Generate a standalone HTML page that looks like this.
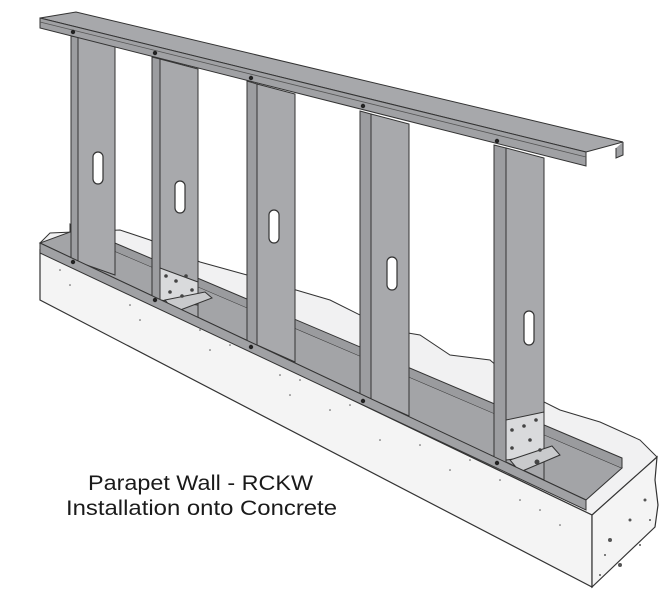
<!DOCTYPE html>
<html><head><style>
html,body{margin:0;padding:0;background:#fff;}
svg{display:block;}
text{font-family:"Liberation Sans",Arial,sans-serif;fill:#1a1a1a;}
</style></head><body>
<svg width="665" height="598" viewBox="0 0 665 598" xmlns="http://www.w3.org/2000/svg">
<path d="M40,243 L50,233 L120,230 L150,240 L200,262 L247,275 L296,290 L330,300 L390,330 L420,335 L450,355 L490,360 L530,395 L560,410 L600,422 L640,440 L657,457 L592,515 L40,250 Z" fill="#f1f1f2" stroke="#333" stroke-width="1"/>
<path d="M40,250 L592,515 L592,587 L40,300 Z" fill="#f4f4f4" stroke="#333" stroke-width="1.2"/>
<path d="M592,515 L657,457 L655,480 L658,505 L655,527 L592,587 Z" fill="#f4f4f4" stroke="#333" stroke-width="1.2"/>
<g fill="#555">
<circle cx="610" cy="540" r="2"/><circle cx="630" cy="520" r="1.5"/><circle cx="620" cy="565" r="2"/><circle cx="645" cy="500" r="1.5"/><circle cx="605" cy="555" r="1"/><circle cx="640" cy="545" r="1"/><circle cx="600" cy="575" r="1"/><circle cx="650" cy="520" r="1"/>
<circle cx="140" cy="320" r="0.8"/><circle cx="210" cy="350" r="0.8"/><circle cx="290" cy="395" r="0.8"/><circle cx="330" cy="410" r="0.8"/><circle cx="450" cy="470" r="0.8"/><circle cx="520" cy="500" r="0.8"/><circle cx="380" cy="440" r="0.8"/>
<circle cx="60" cy="270" r="0.8"/><circle cx="70" cy="285" r="0.8"/><circle cx="130" cy="305" r="0.8"/><circle cx="200" cy="330" r="0.8"/><circle cx="230" cy="345" r="0.8"/><circle cx="280" cy="375" r="0.8"/><circle cx="300" cy="380" r="0.8"/><circle cx="350" cy="405" r="0.8"/><circle cx="420" cy="445" r="0.8"/><circle cx="470" cy="460" r="0.8"/><circle cx="500" cy="480" r="0.8"/><circle cx="540" cy="510" r="0.8"/><circle cx="560" cy="525" r="0.8"/>
</g>
<path d="M40,243 L586,500 L622,468 L70,232 Z" fill="#a3a4a7" stroke="#333" stroke-width="1"/>
<path d="M622,468 L622,458 L70,224 L70,232" fill="#9a9b9e" stroke="#333" stroke-width="1"/>
<g stroke="#333" stroke-width="1">
<path d="M71,36 L78,37 L78,262 L71,262 Z" fill="#9c9da0"/><path d="M78,37 L115,46 L115,275 L78,262 Z" fill="#a8a9ac"/>
<path d="M152,57 L160,59 L160,300 L152,300 Z" fill="#9c9da0"/><path d="M160,59 L198,69 L198,318 L160,300 Z" fill="#a8a9ac"/>
<path d="M247,81 L257,84 L257,345 L247,345 Z" fill="#9c9da0"/><path d="M257,84 L295,94 L295,362 L257,345 Z" fill="#a8a9ac"/>
<path d="M360,111 L371,114 L371,399 L360,399 Z" fill="#9c9da0"/><path d="M371,114 L409,124 L409,416 L371,399 Z" fill="#a8a9ac"/>
<path d="M494,145 L506,148 L506,462 L494,462 Z" fill="#9c9da0"/><path d="M506,148 L544,158 L544,480 L506,462 Z" fill="#a8a9ac"/>
</g>
<g fill="#fff" stroke="#333" stroke-width="1.2">
<rect x="93" y="152" width="10" height="32" rx="5"/>
<rect x="175" y="181" width="10" height="32" rx="5"/>
<rect x="269" y="210" width="10" height="33" rx="5"/>
<rect x="387" y="257" width="10" height="33" rx="5"/>
<rect x="524" y="311" width="10" height="34" rx="5"/>
</g>
<g stroke="#333" stroke-width="1" fill="#d9dadc">
<path d="M160,268 L198,282 L198,305 L160,300 Z"/>
<path d="M165,300 L205,292 L212,298 L175,312 Z" fill="#c9cacc"/>
<path d="M506,420 L544,412 L544,455 L506,460 Z"/>
<path d="M510,460 L552,446 L560,455 L520,472 Z" fill="#c9cacc"/>
</g>
<g fill="#444">
<circle cx="166" cy="276" r="1.8"/><circle cx="176" cy="281" r="1.8"/><circle cx="186" cy="276" r="1.8"/><circle cx="192" cy="290" r="1.8"/><circle cx="170" cy="292" r="1.8"/><circle cx="182" cy="296" r="1.8"/>
<circle cx="512" cy="430" r="1.8"/><circle cx="524" cy="426" r="1.8"/><circle cx="536" cy="420" r="1.8"/><circle cx="512" cy="448" r="1.8"/><circle cx="530" cy="440" r="1.8"/><circle cx="540" cy="450" r="1.8"/><circle cx="537" cy="462" r="2.5"/>
</g>
<path d="M40,243 L586,500 L586,510 L40,253 Z" fill="#a0a1a4" stroke="#333" stroke-width="1"/>
<g fill="#222">
<circle cx="73" cy="262" r="2.2"/><circle cx="155" cy="300" r="2.2"/><circle cx="251" cy="347" r="2.2"/><circle cx="363" cy="401" r="2.2"/><circle cx="497" cy="463" r="2.2"/>
</g>
<path d="M40,18 L76,12 L623,142 L586,152 Z" fill="#a7a8ab" stroke="#333" stroke-width="1"/>
<path d="M623,142 L623,155 L616,158 L616,148" fill="#a0a1a4" stroke="#333" stroke-width="1"/>
<path d="M40,18 L586,152 L586,166 L40,28 Z" fill="#a0a1a4" stroke="#333" stroke-width="1"/>
<path d="M40,22 L586,157" stroke="#555" stroke-width="0.8" fill="none"/>
<g fill="#222">
<circle cx="73" cy="32" r="2.2"/><circle cx="155" cy="53" r="2.2"/><circle cx="251" cy="78" r="2.2"/><circle cx="363" cy="106" r="2.2"/><circle cx="497" cy="141" r="2.2"/>
</g>
<text x="88" y="490" font-size="21" textLength="225" lengthAdjust="spacingAndGlyphs">Parapet Wall - RCKW</text>
<text x="66" y="515" font-size="21" textLength="271" lengthAdjust="spacingAndGlyphs">Installation onto Concrete</text>
</svg>
</body></html>
